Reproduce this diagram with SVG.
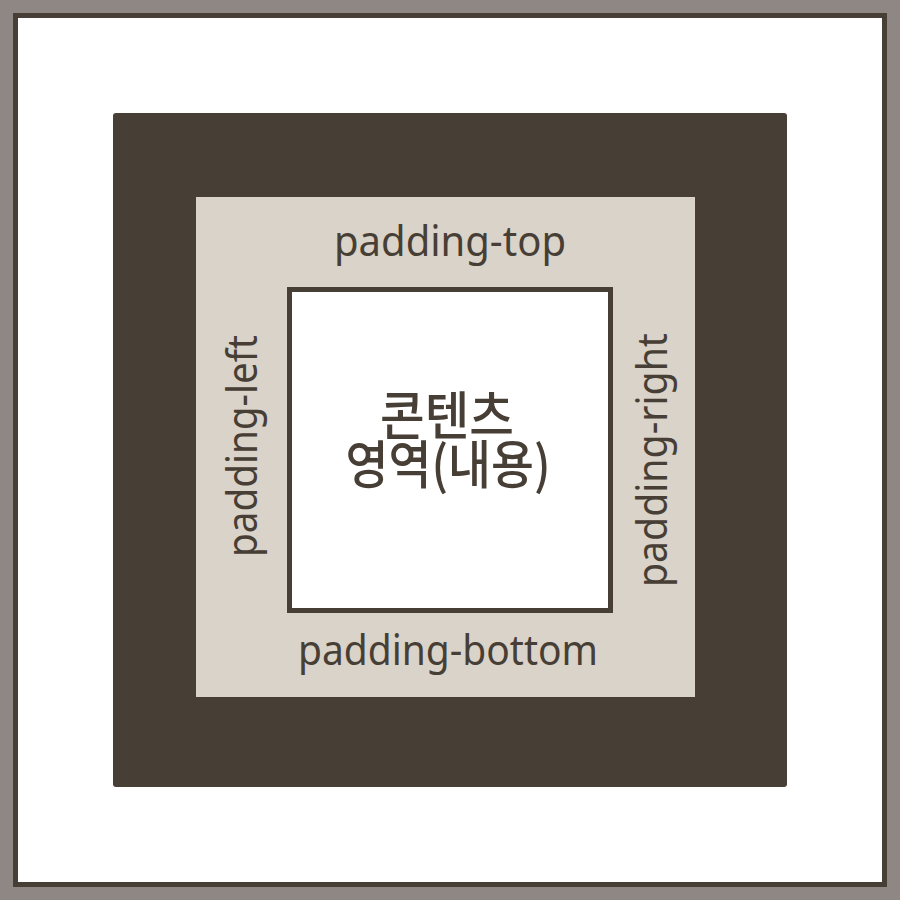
<svg xmlns="http://www.w3.org/2000/svg" width="900" height="900" viewBox="0 0 900 900">
<style>
.lbl{font-family:"Noto Sans","Liberation Sans",sans-serif;font-size:42px;fill:#473e35;text-anchor:middle}
.ko{font-family:"Noto Sans CJK KR","Noto Sans",sans-serif;font-size:52px;font-weight:500;fill:#473e35;text-anchor:middle}
</style>
<rect x="0" y="0" width="900" height="900" fill="#8f8784"/>
<rect id="frame" x="15.5" y="15.5" width="869" height="869" fill="#ffffff" stroke="#473e35" stroke-width="5"/>
<g id="border">
<rect x="113" y="113" width="674" height="674" rx="3" fill="#473e35"/>
</g>
<g id="padding">
<rect x="196" y="197" width="499" height="500" fill="#dad3c9"/>
<text class="lbl" x="450" y="256" textLength="232" lengthAdjust="spacingAndGlyphs">padding-top</text>
<text class="lbl" x="448" y="665" textLength="300" lengthAdjust="spacingAndGlyphs">padding-bottom</text>
<text class="lbl" transform="translate(257,446) rotate(-90)" textLength="222" lengthAdjust="spacingAndGlyphs">padding-left</text>
<text class="lbl" transform="translate(667,460) rotate(-90)" textLength="254" lengthAdjust="spacingAndGlyphs">padding-right</text>
</g>
<g id="content">
<rect x="289.5" y="289.5" width="321" height="321" fill="#ffffff" stroke="#473e35" stroke-width="5"/>
<text class="ko"><tspan x="447" y="435" textLength="134" lengthAdjust="spacingAndGlyphs">콘텐츠</tspan><tspan x="448" y="484" textLength="205" lengthAdjust="spacingAndGlyphs">영역(내용)</tspan></text>
</g>
</svg>
